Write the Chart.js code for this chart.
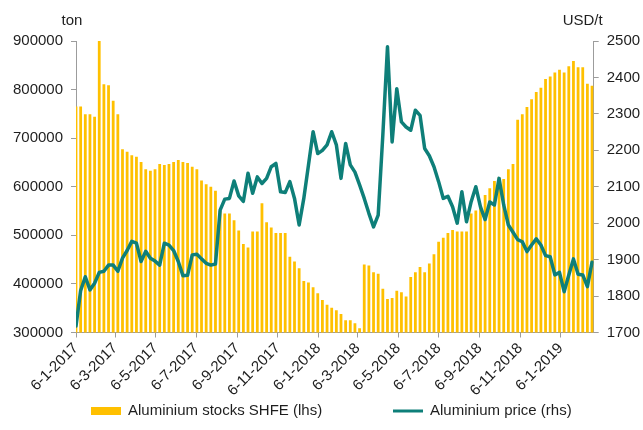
<!DOCTYPE html>
<html>
<head>
<meta charset="utf-8">
<script src="https://cdn.jsdelivr.net/npm/chart.js@4.4.1/dist/chart.umd.min.js"></script>
<style>
  html, body { margin: 0; padding: 0; background: #fff; }
  #wrap { width: 643px; height: 430px; }
</style>
</head>
<body>
<div id="wrap"><canvas id="chart" width="643" height="430"></canvas></div>
<script>
// ── Data (weekly) ──
const FIRST_WEEK = '6-1-2017';

const STOCKS_SHFE = [
  765000, 765000, 749000, 749000, 744000, 900000, 811000, 809000, 777000, 749000,
  677000, 672000, 665000, 662000, 651000, 636000, 633000, 636000, 647000, 645000,
  647000, 651000, 655000, 651000, 649000, 641000, 636000, 613000, 605000, 600000,
  592000, 550000, 545000, 545000, 531000, 510000, 482000, 475000, 508000, 508000,
  566000, 527000, 516000, 505000, 505000, 505000, 456000, 446000, 432000, 406000,
  403000, 393000, 381000, 367000, 357000, 351000, 346000, 338000, 325000, 325000,
  319000, 309000, 440000, 438000, 424000, 421000, 390000, 369000, 371000, 386000,
  383000, 374000, 414000, 424000, 435000, 424000, 442000, 461000, 487000, 495000,
  505000, 511000, 508000, 508000, 508000, 545000, 551000, 560000, 583000, 597000,
  612000, 620000, 616000, 636000, 647000, 738000, 749000, 764000, 780000, 795000,
  804000, 822000, 827000, 835000, 841000, 835000, 848000, 859000, 846000, 846000,
  812000, 808000,
];

const ALU_PRICE = [
  1718, 1815, 1853, 1817, 1835, 1865, 1868, 1885, 1885, 1868,
  1904, 1925, 1950, 1945, 1895, 1923, 1904, 1896, 1885, 1945,
  1940, 1925, 1895, 1856, 1857, 1913, 1915, 1902, 1890, 1885,
  1888, 2036, 2066, 2068, 2116, 2075, 2060, 2137, 2082, 2127,
  2109, 2123, 2155, 2164, 2086, 2084, 2114, 2068, 1995, 2068,
  2159, 2251, 2191, 2200, 2215, 2251, 2215, 2123, 2219, 2160,
  2140, 2105, 2068, 2027, 1990, 2022, 2242, 2484, 2223, 2369,
  2278, 2264, 2255, 2310, 2296, 2205, 2185, 2155, 2114, 2068,
  2074, 2045, 2000, 2086, 2004, 2059, 2100, 2045, 2010, 2058,
  2050, 2123, 2050, 1995, 1975, 1955, 1949, 1922, 1940, 1957,
  1940, 1911, 1908, 1858, 1865, 1812, 1858, 1902, 1860, 1858,
  1826, 1893,
];

const TICK_LABELS = [
  '6-1-2017', '6-3-2017', '6-5-2017', '6-7-2017', '6-9-2017', '6-11-2017',
  '6-1-2018', '6-3-2018', '6-5-2018', '6-7-2018', '6-9-2018', '6-11-2018', '6-1-2019',
];

const UNIT_LEFT  = 'ton';
const UNIT_RIGHT = 'USD/t';

// ── Style ──
const FONT_FAMILY = "'Liberation Sans', Arial, sans-serif";
const FONT        = { family: FONT_FAMILY, size: 15 };
const TEXT        = '#1e1e1e';
const AXIS_GREY   = '#9c9c9c';
const GOLD        = '#ffc000';
const TEAL        = '#0e7f79';

// days since the first week, so the x axis behaves like a date axis
function dayOf(label) {
  const [d, m, y] = label.split('-').map(Number);
  return Date.UTC(y, m - 1, d) / 86400000;
}
const DAY0      = dayOf(FIRST_WEEK);
const TICK_DAYS = TICK_LABELS.map(l => dayOf(l) - DAY0);
const WEEK_DAYS = STOCKS_SHFE.map((_, i) => i * 7);

// ── Unit labels + legend drawn under the axes ──
const decor = {
  id: 'decor',
  afterDraw(chart) {
    const { ctx, chartArea } = chart;
    ctx.save();
    ctx.font = `${FONT.size}px ${FONT_FAMILY}`;
    ctx.fillStyle = TEXT;
    ctx.textBaseline = 'middle';
    ctx.textAlign = 'center';
    ctx.fillText(UNIT_LEFT, chartArea.left - 4, 21);
    ctx.fillText(UNIT_RIGHT, chartArea.right - 11, 21);

    const legendX = [91, 393];
    const y = 411;
    chart.data.datasets.forEach((ds, i) => {
      const x = legendX[i];
      if (ds.type === 'bar') {
        ctx.fillStyle = ds.backgroundColor;
        ctx.fillRect(x, y - 4, 30, 8);
      } else {
        ctx.strokeStyle = ds.borderColor;
        ctx.lineWidth = 3;
        ctx.beginPath();
        ctx.moveTo(x, y);
        ctx.lineTo(x + 30, y);
        ctx.stroke();
      }
      ctx.fillStyle = TEXT;
      ctx.textAlign = 'left';
      ctx.fillText(ds.label, x + 37, y);
    });
    ctx.restore();
  },
};

function sideAxis(position, min, max, step, width) {
  return {
    position,
    min, max,
    grid:   { drawOnChartArea: false, drawTicks: true, tickLength: 5, color: AXIS_GREY },
    border: { display: true, color: AXIS_GREY },
    ticks:  { stepSize: step, color: TEXT, font: FONT, padding: 8, callback: v => String(v) },
    afterFit: s => { s.width = width; },
  };
}

new Chart(document.getElementById('chart').getContext('2d'), {
  type: 'bar',
  data: {
    datasets: [
      {
        type: 'bar',
        label: 'Aluminium stocks SHFE (lhs)',
        data: WEEK_DAYS.map((d, i) => ({ x: d, y: STOCKS_SHFE[i] })),
        backgroundColor: GOLD,
        barPercentage: 0.6,
        categoryPercentage: 1,
        yAxisID: 'y',
        order: 1,
      },
      {
        type: 'line',
        label: 'Aluminium price (rhs)',
        data: WEEK_DAYS.map((d, i) => ({ x: d, y: ALU_PRICE[i] })),
        borderColor: TEAL,
        borderWidth: 3.5,
        borderJoinStyle: 'round',
        borderCapStyle: 'round',
        pointRadius: 0,
        tension: 0,
        yAxisID: 'y1',
        order: 0,
      },
    ],
  },
  options: {
    responsive: false,
    animation: false,
    layout: { padding: { top: 41, left: 0, right: 0, bottom: 0 } },
    scales: {
      x: {
        type: 'linear',
        min: 0, max: 779.5,
        offset: false,
        grid:   { offset: false, drawOnChartArea: false, drawTicks: true, tickLength: 5, color: AXIS_GREY },
        border: { display: true, color: AXIS_GREY },
        ticks: {
          autoSkip: false, minRotation: 45, maxRotation: 45,
          color: TEXT, font: FONT, padding: 2,
          callback: (v, i) => TICK_LABELS[i],
        },
        afterBuildTicks: s => { s.ticks = TICK_DAYS.map(v => ({ value: v })); },
        afterFit: s => { s.height = 97.5; },
      },
      y:  sideAxis('left', 300000, 900000, 100000, 76),
      y1: sideAxis('right', 1700, 2500, 100, 49.3),
    },
    plugins: {
      legend:  { display: false },
      tooltip: { enabled: false },
    },
  },
  plugins: [decor],
});
</script>
</body>
</html>
